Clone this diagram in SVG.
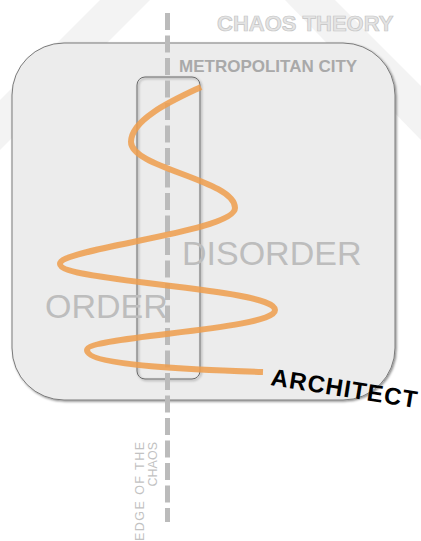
<svg xmlns="http://www.w3.org/2000/svg" width="421" height="541" viewBox="0 0 421 541">
<defs>
<style>
.sans{font-family:"Liberation Sans",Arial,sans-serif}
.wm{fill:#f3f3f3}
.grayBig{fill:#bdbdbd;font-size:34px}
.edge{fill:#c2c2c2;font-size:12.5px}
</style>
<filter id="sh" x="-10%" y="-10%" width="120%" height="120%">
<feDropShadow dx="1.2" dy="1.2" stdDeviation="0.9" flood-color="#000" flood-opacity="0.45"/>
</filter>
</defs>
<rect width="421" height="541" fill="#fff"/>
<g id="watermark">
<polygon class="wm" points="0,100 100,0 150,0 0,150"/>
<polygon class="wm" points="285,0 335,0 421,86 421,140"/>
</g>
<g id="metropolitan-city">
<rect x="12" y="43" width="383" height="357" rx="52" fill="#ececec" stroke="#7a7a7a" stroke-width="1" filter="url(#sh)"/>
<text class="sans" x="179" y="72" font-size="17" font-weight="bold" fill="#a9a9a9">METROPOLITAN CITY</text>
</g>
<g id="edge-zone">
<rect x="137" y="77" width="63" height="302" rx="8" fill="none" stroke="#6a6a6a" stroke-width="1" filter="url(#sh)"/>
</g>
<g id="order"><text class="sans grayBig" x="45" y="318">ORDER</text></g>
<g id="disorder"><text class="sans grayBig" x="182" y="265">DISORDER</text></g>
<g id="connectors">
<line x1="167.5" y1="13" x2="167.5" y2="522" stroke="#bbbbbb" stroke-width="5" stroke-dasharray="17 5.5"/>
<path d="M201,87 C178,98 131,118 131,142 C131,168 235,180 235,208 C235,232 60,248 60,264 C60,282 275,288 275,310 C275,330 87,336 87,350 C87,366 200,370 263,372" fill="none" stroke="#ef9e4c" stroke-opacity="0.85" stroke-width="6"/>
</g>
<g id="chaos-theory">
<text class="sans" x="217" y="31" font-size="22" font-weight="bold" fill="#e4e4e4" stroke="#c4c4c4" stroke-width="0.7">CHAOS THEORY</text>
</g>
<g id="architect">
<text class="sans" transform="translate(270,385) rotate(9)" font-size="24" font-weight="bold" fill="#000" letter-spacing="1.1">ARCHITECT</text>
</g>
<g id="edge-of-the-chaos">
<text class="sans edge" transform="translate(143.5,442) rotate(-90)" text-anchor="end" textLength="99" lengthAdjust="spacing">EDGE OF THE</text>
<text class="sans edge" transform="translate(156.5,442) rotate(-90)" text-anchor="end">CHAOS</text>
</g>
</svg>
